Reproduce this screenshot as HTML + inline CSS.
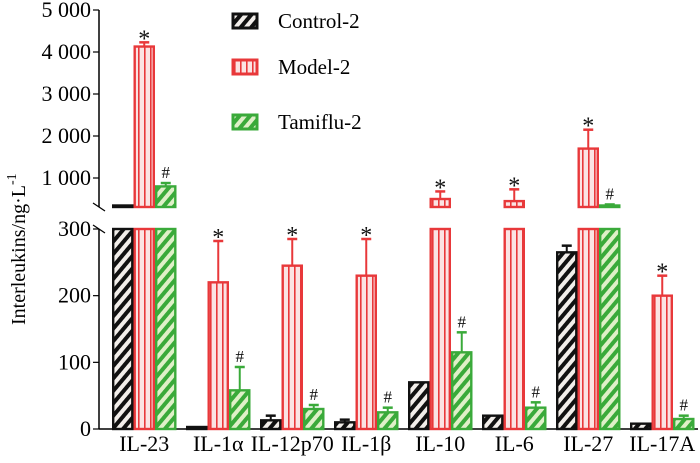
<!DOCTYPE html>
<html><head><meta charset="utf-8"><style>
body{margin:0;background:#fff;}
svg{display:block;}
svg text{font-family:"Liberation Serif","Times New Roman",serif;}
</style></head><body>
<svg id="c" width="700" height="463" viewBox="0 0 700 463">
<defs>
<pattern id="pc" width="8" height="8" patternUnits="userSpaceOnUse" patternTransform="rotate(40)"><rect width="8" height="8" fill="#f2eeea"/><rect width="4" height="8" fill="#111"/></pattern>
<pattern id="pm" width="6" height="6" patternUnits="userSpaceOnUse"><rect width="6" height="6" fill="#fbe3e3"/><rect width="1.6" height="6" fill="#e8383a"/></pattern>
<pattern id="pt" width="8" height="8" patternUnits="userSpaceOnUse" patternTransform="rotate(40)"><rect width="8" height="8" fill="#dff0c8"/><rect width="4" height="8" fill="#3aaa3a"/></pattern>
</defs>
</svg>
<script>
const categories=["IL-23","IL-1α","IL-12p70","IL-1β","IL-10","IL-6","IL-27","IL-17A"];
const controlVals=[330,3,13,10,70,20,265,8];
const controlErr=[340,4,20,14,70,20,275,9];
const modelVals=[4130,220,245,230,500,450,1700,200];
const modelErr=[4230,282,285,285,680,730,2150,230];
const tamifluVals=[800,58,30,25,115,32,330,15];
const tamifluErr=[880,93,36,32,145,40,370,20];
const modelMarks=["*","*","*","*","*","*","*","*"];
const tamifluMarks=["#","#","#","#","#","#","#","#"];
const lowTicks=[0,100,200,300];
const highTicks=["1 000","2 000","3 000","4 000","5 000"];
const highTickVals=[1000,2000,3000,4000,5000];

const svg=document.getElementById('c');
const NS="http://www.w3.org/2000/svg";
const FF='"Liberation Serif", serif';
function mk(t,a,p){const e=document.createElementNS(NS,t);for(const k in a)e.setAttribute(k,a[k]);if(t==='text')e.setAttribute('font-family',FF);(p||svg).appendChild(e);return e;}
const axX=99, base=429, lowTop=229, highBot=207;
function yLow(v){return base-v*(base-lowTop)/300;}
function yHigh(v){return 178-(v-1000)*0.042;}
const BW=21.5, pitch=74, g0=112;
function xBar(i,s){return g0+i*pitch+s*BW;}

let a=mk('line',{x1:axX,y1:base,x2:axX,y2:lowTop,stroke:'#000','stroke-width':1.5});

a=mk('line',{x1:axX,y1:highBot,x2:axX,y2:yHigh(5000),stroke:'#000','stroke-width':1.5});

a=mk('line',{x1:axX,y1:base,x2:698,y2:base,stroke:'#000','stroke-width':1.5});

mk('line',{x1:axX-6,y1:203,x2:axX+6,y2:211,stroke:'#000','stroke-width':1.2});
mk('line',{x1:axX-6,y1:225,x2:axX+6,y2:233,stroke:'#000','stroke-width':1.2});
lowTicks.forEach(v=>{const y=yLow(v);mk('line',{x1:axX-6,y1:y,x2:axX,y2:y,stroke:'#000','stroke-width':1.2});
 const t=mk('text',{x:axX-8,y:y+7,'text-anchor':'end','font-size':22});t.textContent=v;
 });
highTickVals.forEach((v,i)=>{const y=yHigh(v);mk('line',{x1:axX-6,y1:y,x2:axX,y2:y,stroke:'#000','stroke-width':1.2});
 const t=mk('text',{x:axX-8,y:y+7,'text-anchor':'end','font-size':22});t.textContent=highTicks[i];
 });
let yt=mk('text',{x:0,y:0,transform:'translate(25,325) rotate(-90)','font-size':20});
yt.innerHTML='Interleukins/ng·L<tspan dy="-9" font-size="14">-1</tspan>';


const series=[[controlVals,controlErr,'#111','url(#pc)',null],[modelVals,modelErr,'#e8383a','url(#pm)',modelMarks],[tamifluVals,tamifluErr,'#3aaa3a','url(#pt)',tamifluMarks]];
categories.forEach((c,i)=>{
 series.forEach((s,si)=>{
  const v=s[0][i],e=s[1][i],x=xBar(i,si);
  const g=mk('g',{});
  
  
  function rect(y1,y2){mk('rect',{x:x+1.2,y:y1,width:BW-2.4,height:Math.max(0,y2-y1),fill:s[3],stroke:s[2],'stroke-width':2.4},g);}
  let topY;
  if(v>300){rect(lowTop,base);rect(Math.min(yHigh(v),highBot-1.5),highBot);topY=yHigh(v);}
  else{rect(yLow(v),base);topY=yLow(v);}
  const eY=e>300?yHigh(e):yLow(e);
  if(eY<topY-1){const cx=x+BW/2;
   mk('line',{x1:cx,y1:topY,x2:cx,y2:eY,stroke:s[2],'stroke-width':2},g);
   mk('line',{x1:cx-5,y1:eY,x2:cx+5,y2:eY,stroke:s[2],'stroke-width':2.5},g);}
  if(s[4]){const m=mk('text',{x:x+BW/2,y:si==1?eY+4:eY-5,'text-anchor':'middle','font-size':si==1?24:17,fill:'#111'},g);
   m.textContent=s[4][i];}
 });
 const t=mk('text',{x:g0+i*pitch+BW*1.5,y:451,'text-anchor':'middle','font-size':22});
 t.textContent=c;
});
const leg=[['Control-2','#111','url(#pc)',21],['Model-2','#e8383a','url(#pm)',67],['Tamiflu-2','#3aaa3a','url(#pt)',122]];
leg.forEach(l=>{const g=mk('g',{});
 mk('rect',{x:233,y:l[3]-7,width:24,height:14,fill:l[2],stroke:l[1],'stroke-width':3},g);
 const t=mk('text',{x:278,y:l[3]+7,'font-size':21},g);t.textContent=l[0];});
</script>
</body></html>
